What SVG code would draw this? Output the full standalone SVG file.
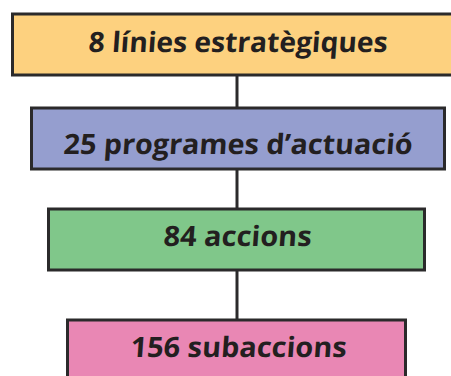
<svg xmlns="http://www.w3.org/2000/svg" width="451" height="376" viewBox="0 0 451 376">
<style>
.box{stroke:#2b2a2b;stroke-width:3}
.lbl{font-family:"Open Sans",sans-serif;font-weight:700;font-size:28px;fill:#231f20;text-anchor:middle}
.conn{stroke:#2b2a2b;stroke-width:3;fill:none}
</style>
<rect width="451" height="376" fill="#ffffff"/>
<g id="connectors">
<line class="conn" x1="237" y1="75" x2="237" y2="107"/>
<line class="conn" x1="237" y1="169" x2="237" y2="208"/>
<line class="conn" x1="237" y1="270" x2="237" y2="319"/>
</g>
<g id="n1">
<rect class="box" x="12.5" y="14" width="450" height="61" fill="#fdd17f"/>
<text class="lbl" transform="translate(237.5,52) skewX(-4)" textLength="299" lengthAdjust="spacingAndGlyphs">8 línies estratègiques</text>
</g>
<g id="n2">
<rect class="box" x="31.5" y="108" width="413" height="61" fill="#959ecf"/>
<text class="lbl" transform="translate(237.5,154) skewX(-4)" textLength="349" lengthAdjust="spacingAndGlyphs">25 programes d’actuació</text>
</g>
<g id="n3">
<rect class="box" x="48.5" y="209" width="376" height="61" fill="#80c78a"/>
<text class="lbl" transform="translate(237,246) skewX(-4)" textLength="148" lengthAdjust="spacingAndGlyphs">84 accions</text>
</g>
<g id="n4">
<rect class="box" x="67.5" y="320" width="338" height="70" fill="#e987b4"/>
<text class="lbl" transform="translate(238,357) skewX(-4)" textLength="216" lengthAdjust="spacingAndGlyphs">156 subaccions</text>
</g>
</svg>
